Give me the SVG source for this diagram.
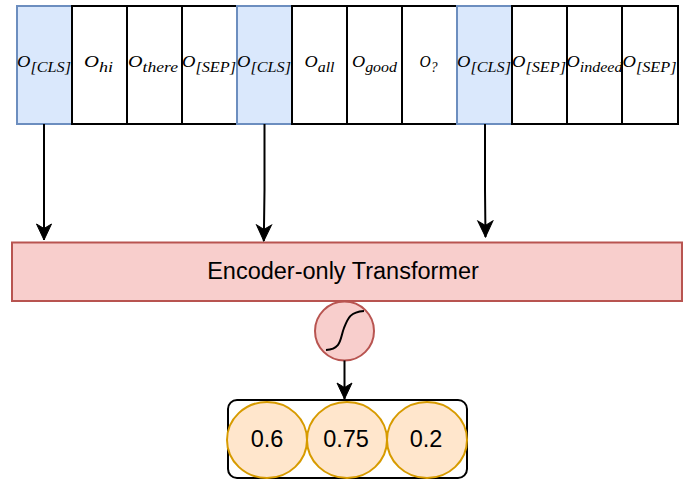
<svg xmlns="http://www.w3.org/2000/svg" width="686" height="480" viewBox="0 0 686 480">
  <style>
    .cell { fill: #ffffff; stroke: #000000; stroke-width: 2; }
    .cls { fill: #dae8fc; stroke: #6c8ebf; stroke-width: 2; }
    .tok { font-family: "Liberation Serif", "DejaVu Serif", serif; font-style: italic; font-size: 16px; fill: #000; text-anchor: middle; }
    .sub { font-size: 14px; }
    .edge { fill: none; stroke: #000000; stroke-width: 2; }
    .enc { fill: #f8cecc; stroke: #b85450; stroke-width: 2; }
    .prob { fill: #ffe6cc; stroke: #d79b00; stroke-width: 2; }
    .label { font-family: "Liberation Sans", Arial, sans-serif; font-size: 23.5px; fill: #000; text-anchor: middle; }
  </style>
  <defs>
    <marker id="arrow" markerWidth="18" markerHeight="18" refX="17" refY="8.5" orient="auto" markerUnits="userSpaceOnUse">
      <path d="M1,1 L17,8.5 L1,16 L5.5,8.5 Z" fill="#000" stroke="#000" stroke-width="1"/>
    </marker>
  </defs>

  <rect width="686" height="480" fill="#ffffff"/>

  <!-- token output cells -->
  <g id="tokens">
    <g id="tok-cls-1"><rect class="cls" x="17" y="6" width="55" height="118"/>
      <text class="tok" x="44" y="67" textLength="54" lengthAdjust="spacingAndGlyphs">O<tspan class="sub" dy="5">[CLS]</tspan></text></g>
    <g id="tok-hi"><rect class="cell" x="72" y="6" width="55" height="118"/>
      <text class="tok" x="98.5" y="67" textLength="29" lengthAdjust="spacingAndGlyphs">O<tspan class="sub" dy="5">hi</tspan></text></g>
    <g id="tok-there"><rect class="cell" x="127" y="6" width="55" height="118"/>
      <text class="tok" x="153" y="67" textLength="50" lengthAdjust="spacingAndGlyphs">O<tspan class="sub" dy="5">there</tspan></text></g>
    <g id="tok-sep-1"><rect class="cell" x="182" y="6" width="55" height="118"/>
      <text class="tok" x="209" y="67" textLength="54" lengthAdjust="spacingAndGlyphs">O<tspan class="sub" dy="5">[SEP]</tspan></text></g>
    <g id="tok-cls-2"><rect class="cls" x="237" y="6" width="55" height="118"/>
      <text class="tok" x="264" y="67" textLength="54" lengthAdjust="spacingAndGlyphs">O<tspan class="sub" dy="5">[CLS]</tspan></text></g>
    <g id="tok-all"><rect class="cell" x="292" y="6" width="55" height="118"/>
      <text class="tok" x="319.5" y="67" textLength="30" lengthAdjust="spacingAndGlyphs">O<tspan class="sub" dy="5">all</tspan></text></g>
    <g id="tok-good"><rect class="cell" x="347" y="6" width="55" height="118"/>
      <text class="tok" x="374.5" y="67" textLength="45" lengthAdjust="spacingAndGlyphs">O<tspan class="sub" dy="5">good</tspan></text></g>
    <g id="tok-q"><rect class="cell" x="402" y="6" width="55" height="118"/>
      <text class="tok" x="428.5" y="67" textLength="18" lengthAdjust="spacingAndGlyphs">O<tspan class="sub" dy="5">?</tspan></text></g>
    <g id="tok-cls-3"><rect class="cls" x="457" y="6" width="55" height="118"/>
      <text class="tok" x="484" y="67" textLength="54" lengthAdjust="spacingAndGlyphs">O<tspan class="sub" dy="5">[CLS]</tspan></text></g>
    <g id="tok-sep-2"><rect class="cell" x="512" y="6" width="55" height="118"/>
      <text class="tok" x="539" y="67" textLength="54" lengthAdjust="spacingAndGlyphs">O<tspan class="sub" dy="5">[SEP]</tspan></text></g>
    <g id="tok-indeed"><rect class="cell" x="567" y="6" width="55" height="118"/>
      <text class="tok" x="594.5" y="67" textLength="56" lengthAdjust="spacingAndGlyphs">O<tspan class="sub" dy="5">indeed</tspan></text></g>
    <g id="tok-sep-3"><rect class="cell" x="622" y="6" width="56" height="118"/>
      <text class="tok" x="649.5" y="67" textLength="54" lengthAdjust="spacingAndGlyphs">O<tspan class="sub" dy="5">[SEP]</tspan></text></g>
  </g>

  <!-- encoder -->
  <g id="encoder">
    <rect class="enc" x="12" y="242.5" width="670" height="58.5"/>
    <text class="label" x="343" y="279">Encoder-only Transformer</text>
  </g>

  <!-- sigmoid -->
  <g id="sigmoid">
    <circle class="enc" cx="344.5" cy="331" r="29.5"/>
    <path d="M326,350 C342,349 340,338 344,328 C348,318 350,312 364,311" fill="none" stroke="#000" stroke-width="2"/>
  </g>

  <!-- probabilities -->
  <g id="probs">
    <rect x="228" y="400" width="239" height="78" rx="9" ry="9" fill="#ffffff" stroke="#000" stroke-width="2"/>
    <g id="p1"><ellipse class="prob" cx="267" cy="440" rx="40" ry="38"/><text class="label" x="267" y="447">0.6</text></g>
    <g id="p2"><ellipse class="prob" cx="347" cy="440" rx="40" ry="38"/><text class="label" x="346" y="447">0.75</text></g>
    <g id="p3"><ellipse class="prob" cx="427" cy="440" rx="40" ry="38"/><text class="label" x="426" y="447">0.2</text></g>
  </g>

  <!-- connectors -->
  <g id="connectors">
    <path class="edge" d="M44,124 L44,240" marker-end="url(#arrow)"/>
    <path class="edge" d="M264.5,124 L264.5,190 L263.8,241" marker-end="url(#arrow)"/>
    <path class="edge" d="M485,124 L485,190 L485.5,237" marker-end="url(#arrow)"/>
    <path class="edge" d="M344.5,360.5 L344.5,399" marker-end="url(#arrow)"/>
  </g>
</svg>
